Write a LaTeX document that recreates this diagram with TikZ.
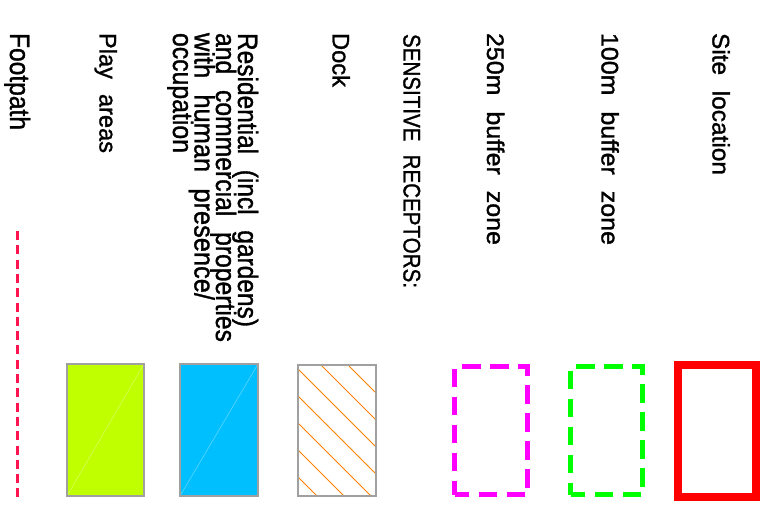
\documentclass[tikz,border=0pt]{standalone}
\usepackage{fontspec}
\setmainfont{Liberation Sans}[WordSpace=2.3, FakeBold=1.3]
\usepackage{graphicx}
\definecolor{siteRed}{RGB}{255,0,0}
\definecolor{bufMag}{RGB}{255,0,255}
\definecolor{bufGreen}{RGB}{0,255,0}
\definecolor{edgeGray}{RGB}{160,160,160}
\definecolor{hatchOrange}{RGB}{255,128,0}
\definecolor{resBlue}{RGB}{0,191,255}
\definecolor{playLime}{RGB}{192,255,0}
\definecolor{pathPink}{RGB}{255,20,80}
\newcommand\fitto[2]{\resizebox{#1pt}{\height}{#2}}
\tikzset{
  lbl/.style={rotate=-90, anchor=base west, inner sep=0pt, outer sep=0pt, font=\fontsize{24}{24}\selectfont},
  biglbl/.style={lbl, font=\fontsize{28}{28}\selectfont},
  keybox/.style={rectangle, inner sep=0pt, outer sep=0pt},
  dashbox/.style={keybox, line width=5pt, dash pattern=on 18.5pt off 9.5pt, dash phase=4pt},
  fillbox/.style={keybox, draw=edgeGray, line width=1.5pt,
    path picture={\draw[white, opacity=0.35, line width=0.6pt] (path picture bounding box.south west) -- (path picture bounding box.north east);}}
}
\begin{document}
\begin{tikzpicture}[x=1pt, y=-1pt]
\useasboundingbox[fill=white] (0,0) rectangle (763,509);

% labels
\node[lbl] (tsite) at (712.5,33) {\fitto{142}{Site location}};
\node[lbl] (t100) at (601.5,33) {\fitto{212}{100m buffer zone}};
\node[lbl] (t250) at (487,33) {\fitto{212}{250m buffer zone}};
\node[lbl] (tsens) at (403.5,34) {\fitto{254}{SENSITIVE RECEPTORS:}};
\node[lbl] (tdock) at (332.5,33) {\fitto{54}{Dock}};
\node[biglbl] (tres1) at (238,33) {\fitto{294}{Residential (incl gardens)}};
\node[biglbl] (tres2) at (216,33) {\fitto{309}{and commercial properties}};
\node[biglbl] (tres3) at (194.5,33) {\fitto{267}{with human presence/}};
\node[biglbl] (tres4) at (173,33) {\fitto{120}{occupation}};
\node[lbl] (tplay) at (99.5,33) {\fitto{120}{Play areas}};
\node[biglbl] (tfoot) at (10,33) {\fitto{97}{Footpath}};

% key symbols
\node[keybox, draw=siteRed, line width=8pt, minimum width=78pt, minimum height=132.5pt] (ksite) at (717,430.75) {};
\node[dashbox, draw=bufGreen, minimum width=72pt, minimum height=128pt] (k100) at (606.5,430.5) {};
\node[dashbox, draw=bufMag, minimum width=73pt, minimum height=128pt] (k250) at (491,430.5) {};
\node[keybox, minimum width=78pt, minimum height=131pt] (kdock) at (337,430.5) {};
\begin{scope}
  \clip (kdock.south west) rectangle (kdock.north east);
  \foreach \c in {17,44,71,98,125,152,179}
    \draw[hatchOrange, line width=1pt] (290,290+\c) -- (390,390+\c);
\end{scope}
\draw[edgeGray, line width=1.5pt] (kdock.south west) rectangle (kdock.north east);
\node[fillbox, fill=resBlue, minimum width=78pt, minimum height=132pt] (kres) at (219,430) {};
\node[fillbox, fill=playLime, minimum width=77pt, minimum height=132pt] (kplay) at (105.5,430) {};
\coordinate (fpA) at (17,231);
\coordinate (fpB) at (17,497);
\draw[pathPink, line width=3pt, dash pattern=on 9pt off 5.3pt] (fpA) -- (fpB);
\end{tikzpicture}
\end{document}
